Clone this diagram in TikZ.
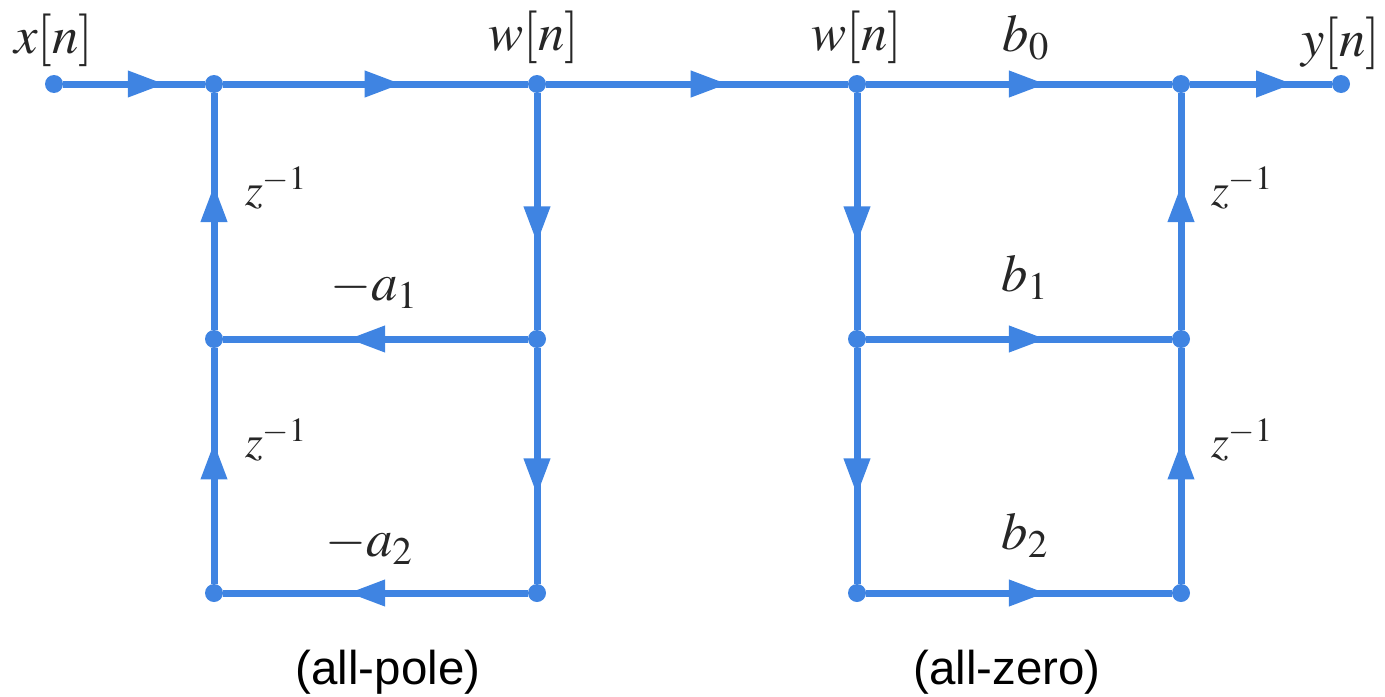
\documentclass[tikz,border=0pt]{standalone}
\usepackage{fontspec}
\setsansfont{Liberation Sans}
\usepackage{mathptmx}
\usepackage{tikz}
\usetikzlibrary{positioning,arrows.meta,decorations.markings}
\definecolor{flowblue}{HTML}{3F84E2}

\begin{document}
\begin{tikzpicture}[
  dot/.style={circle, fill=flowblue, inner sep=0pt, minimum size=0.36cm},
  flow/.style={draw=flowblue, line width=0.14cm, postaction={decorate},
    decoration={markings, mark=at position #1 with {\arrow[flowblue]{Triangle[length=0.74cm, width=0.5cm]}}}},
  sig/.style={font=\fontsize{30}{34}\selectfont, text=black!85},
  delay/.style={font=\fontsize{26}{32}\selectfont, text=black!85},
  sectlabel/.style={font=\sffamily\fontsize{27}{32}\selectfont},
  on grid
]
\useasboundingbox (0,0) rectangle (27.7,-13.94);

% top row
\node[dot] (in) at (1.08,-1.68) {};
\node[dot, right=3.2cm of in] (p0) {};
\node[dot, right=6.46cm of p0] (w0) {};
\node[dot, right=6.4cm of w0] (v0) {};
\node[dot, right=6.48cm of v0] (q0) {};
\node[dot, right=3.2cm of q0] (out) {};

% lower rows
\node[dot, below=5.1cm of p0] (p1) {};
\node[dot, below=5.08cm of p1] (p2) {};
\node[dot, below=5.1cm of w0] (w1) {};
\node[dot, below=5.08cm of w1] (w2) {};
\node[dot, below=5.1cm of v0] (v1) {};
\node[dot, below=5.08cm of v1] (v2) {};
\node[dot, below=5.1cm of q0] (q1) {};
\node[dot, below=5.08cm of q1] (q2) {};

\draw[flow=0.718] (in) -- (p0);
\draw[flow=0.586] (p0) -- (w0);
\draw[flow=0.602] (w0) -- (v0);
\draw[flow=0.588] (v0) -- (q0);
\draw[flow=0.728] (q0) -- (out);

% all-pole section
\draw[flow=0.612] (p1) -- (p0);
\draw[flow=0.60] (p2) -- (p1);
\draw[flow=0.635] (w0) -- (w1);
\draw[flow=0.625] (w1) -- (w2);
\draw[flow=0.59] (w1) -- (p1);
\draw[flow=0.59] (w2) -- (p2);

% all-zero section
\draw[flow=0.635] (v0) -- (v1);
\draw[flow=0.625] (v1) -- (v2);
\draw[flow=0.588] (v1) -- (q1);
\draw[flow=0.588] (v2) -- (q2);
\draw[flow=0.612] (q1) -- (q0);
\draw[flow=0.60] (q2) -- (q1);

% labels
\node[sig, above=0.88cm of in] (xlab) {$x[n]$};
\node[sig, above=0.94cm of w0, xshift=-0.06cm] (wlab) {$w[n]$};
\node[sig, above=0.94cm of v0] (vlab) {$w[n]$};
\node[sig, above=0.92cm of v0, xshift=3.38cm] (b0lab) {$b_0$};
\node[sig, above=0.82cm of out] (ylab) {$y[n]$};
\node[delay, right=1.24cm of p0, yshift=-2.08cm] (z1lab) {$z^{-1}$};
\node[delay, right=1.24cm of p1, yshift=-2.02cm] (z2lab) {$z^{-1}$};
\node[delay, right=1.22cm of q0, yshift=-2.08cm] (z3lab) {$z^{-1}$};
\node[delay, right=1.22cm of q1, yshift=-2.02cm] (z4lab) {$z^{-1}$};
\node[sig, above=1cm of p1, xshift=3.2cm] (a1lab) {$-a_1$};
\node[sig, above=0.96cm of p2, xshift=3.1cm] (a2lab) {$-a_2$};
\node[sig, above=1.24cm of v1, xshift=3.36cm] (b1lab) {$b_1$};
\node[sig, above=1.16cm of v2, xshift=3.36cm] (b2lab) {$b_2$};
\node[sectlabel, below=1.58cm of p2, xshift=3.48cm] (polelab) {(all-pole)};
\node[sectlabel, below=1.58cm of v2, xshift=3cm] (zerolab) {(all-zero)};
\end{tikzpicture}
\end{document}
